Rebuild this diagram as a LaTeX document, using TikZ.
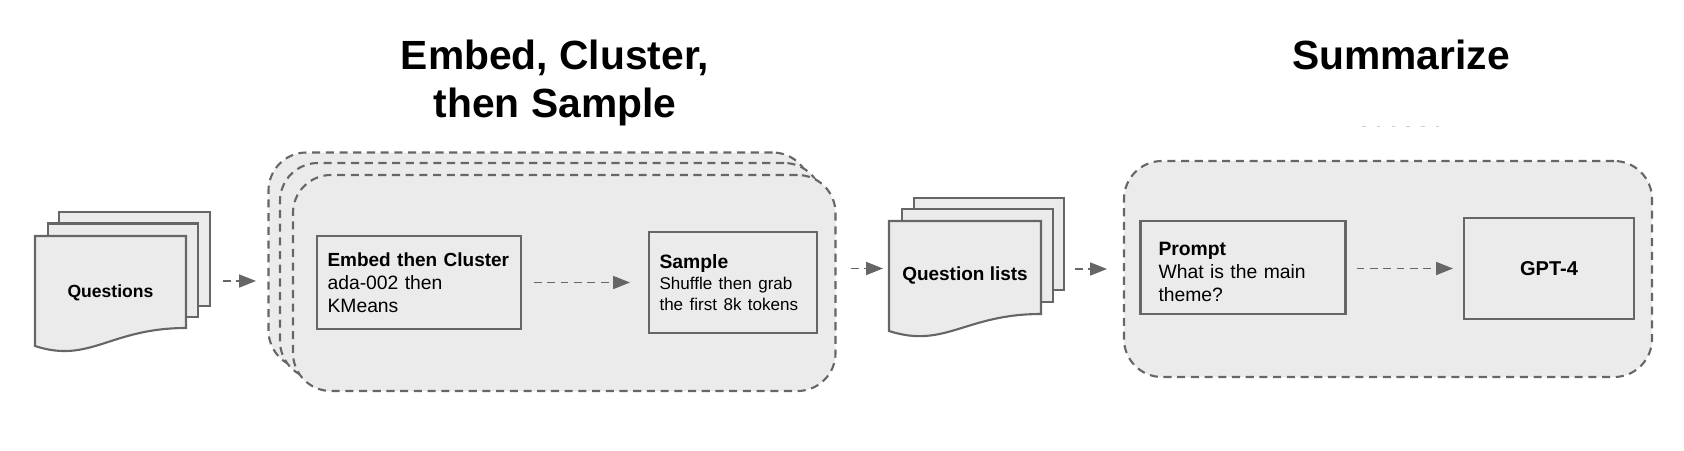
\documentclass[tikz,border=0pt]{standalone}
\usepackage{fontspec}
\setmainfont{Liberation Sans}
\usetikzlibrary{arrows.meta}

\begin{document}
\begin{tikzpicture}[
	every node/.style={inner sep=0pt, outer sep=0pt, black},
	headline/.style={font=\bfseries\fontsize{11.6}{13}\selectfont, align=center},
	sheet/.style={draw=black!60, fill=black!8, line width=0.6pt},
	group/.style={draw=black!60, fill=black!8, line width=0.6pt, dash pattern=on 2.3pt off 1.6pt, rounded corners=0.38cm, minimum height=2.16cm},
	stepbox/.style={draw=black!60, fill=black!8, line width=0.6pt, align=left, font=\fontsize{5.5}{6.6}\selectfont},
	doctext/.style={font=\bfseries\fontsize{5}{6}\selectfont, align=center},
	flow/.style={draw=black!60, line width=0.5pt, dash pattern=on 2.2pt off 1.6pt, -{Triangle[length=0.17cm,width=0.13cm]}}
]
	\useasboundingbox (0,0) rectangle (16.84,4.5);
	% headings
	\node[headline] (titlecluster) at (5.55,3.67) {Embed, Cluster,\\[0.5pt]then Sample};
	\node[headline] (titlesummary) at (14.01,3.95) {Summarize};
	\draw[black!20, line width=0.3pt, dash pattern=on 1pt off 3.2pt] (13.62,3.235) -- (14.48,3.235);
	% question sheets
	\draw[sheet] (0.59,1.44) rectangle (2.10,2.384);
	\draw[sheet] (0.48,1.33) rectangle (1.98,2.265);
	\draw[sheet] (0.35,2.14) -- (1.86,2.14) -- (1.86,1.22) .. controls (1.10,1.22) and (0.90,0.86) .. (0.35,1.04) -- cycle;
	\node[doctext, minimum width=1.51cm] (questions) at (1.105,1.57) {Questions};
	% cluster groups
	\node[group, minimum width=5.42cm] (clusterback) at (5.395,1.895) {};
	\node[group, minimum width=5.42cm] (clustermid) at (5.51,1.79) {};
	\node[group, minimum width=5.425cm] (clusterfront) at (5.6425,1.67) {};
	\node[stepbox, text width=1.83cm, inner xsep=0.105cm, minimum height=0.93cm] (embed) at (4.19,1.675) {\textbf{\fontsize{5.4}{6.6}\selectfont Embed then Cluster}\\ada-002 then\\KMeans};
	\node[stepbox, text width=1.47cm, inner xsep=0.105cm, minimum height=1.01cm] (sample) at (7.33,1.675) {\textbf{Sample}\\\fontsize{4.85}{6}\selectfont Shuffle then grab\\[-0.6pt]the first 8k tokens};
	% list sheets
	\draw[sheet] (9.14,1.60) rectangle (10.64,2.524);
	\draw[sheet] (9.02,1.48) rectangle (10.53,2.41);
	\draw[sheet] (8.89,2.29) -- (10.41,2.29) -- (10.41,1.36) .. controls (9.65,1.36) and (9.45,1.01) .. (8.89,1.19) -- cycle;
	\node[doctext, font=\bfseries\fontsize{5.4}{6}\selectfont, minimum width=1.52cm] (lists) at (9.65,1.75) {Question lists};
	% summary group
	\node[group, minimum width=5.28cm] (summary) at (13.88,1.81) {};
	\node[stepbox, text width=1.69cm, inner xsep=0.18cm, minimum height=0.93cm] (prompt) at (12.43,1.825) {\rule{0pt}{0.226cm}\textbf{Prompt}\\What is the main\\theme?};
	\node[stepbox, font=\bfseries\fontsize{5.7}{6}\selectfont, align=center, minimum width=1.70cm, minimum height=1.01cm] (gpt) at (15.49,1.815) {GPT-4};
	% connectors
	\draw[flow, shorten <=0.37cm, shorten >=0.37cm] ([yshift=0.12cm]questions.east) -- ([yshift=0.12cm]questions.east -| clusterfront.west);
	\draw[flow, shorten <=0.13cm, shorten >=0.19cm] (embed) -- (sample);
	\draw[flow, shorten <=0.155cm, shorten >=0.06cm] ([yshift=0.065cm]lists.west -| clusterfront.east) -- ([yshift=0.065cm]lists.west);
	\draw[flow, shorten <=0.34cm, shorten >=0.17cm] ([yshift=0.06cm]lists.east) -- (summary.west);
	\draw[flow, shorten <=0.11cm, shorten >=0.11cm] (prompt.east |- gpt.west) -- (gpt.west);
\end{tikzpicture}
\end{document}
